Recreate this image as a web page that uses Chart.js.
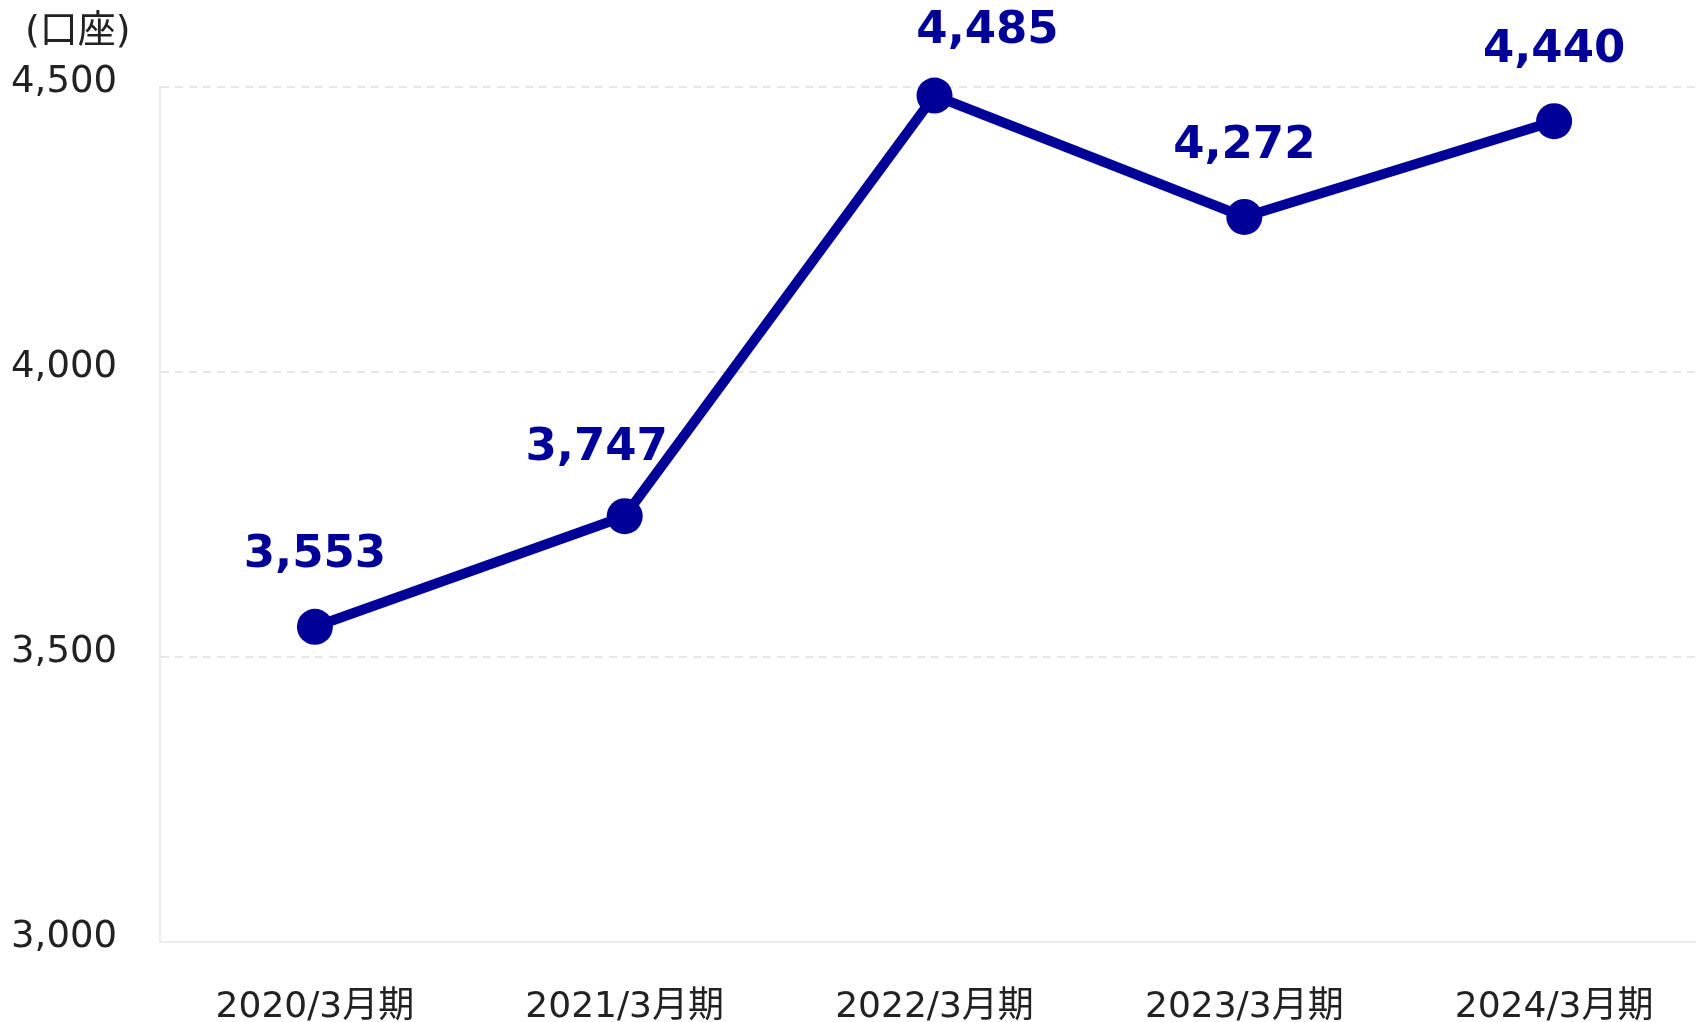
<!DOCTYPE html>
<html>
<head>
<meta charset="utf-8">
<script src="https://cdn.jsdelivr.net/npm/chart.js@4"></script>
<style>
html,body{margin:0;padding:0;background:#fff;overflow:hidden;}
#wrap{width:1696px;height:1022px;overflow:hidden;}
</style>
</head>
<body>
<div id="wrap"><canvas id="c" width="1727" height="1022"></canvas></div>
<script>
const categories = ['2020/3月期','2021/3月期','2022/3月期','2023/3月期','2024/3月期'];
const accounts = [3553, 3747, 4485, 4272, 4440];
const yTicks = [3000, 3500, 4000, 4500];
const unitLabel = '(口座)';
// label offsets (dx, dy) relative to each point, in px
const labelOffsets = [[0,-71],[-28,-68],[53,-64],[0,-71],[0,-71]];

const BLUE = '#000099';
const FONT = "'DejaVu Sans', Verdana, 'Noto Sans CJK JP', sans-serif";

const labelPlugin = {
  id: 'valueLabels',
  afterDatasetsDraw(chart) {
    const ctx = chart.ctx;
    const meta = chart.getDatasetMeta(0);
    ctx.save();
    ctx.font = "bold 45px " + FONT;
    ctx.fillStyle = BLUE;
    ctx.textAlign = 'center';
    ctx.textBaseline = 'middle';
    meta.data.forEach((pt, i) => {
      const o = labelOffsets[i];
      ctx.fillText(accounts[i].toLocaleString('en-US'), pt.x + o[0], pt.y + o[1]);
    });
    ctx.restore();
  },
  afterDraw(chart) {
    const ctx = chart.ctx;
    ctx.save();
    ctx.font = "38px " + FONT;
    ctx.fillStyle = '#222';
    ctx.textAlign = 'left';
    ctx.textBaseline = 'middle';
    ctx.fillText(unitLabel, 25, 32);
    ctx.restore();
  }
};

new Chart(document.getElementById('c'), {
  type: 'line',
  data: {
    labels: categories,
    datasets: [{
      data: accounts,
      borderColor: BLUE,
      backgroundColor: BLUE,
      borderWidth: 10,
      pointRadius: 18,
      pointHoverRadius: 18,
      pointBackgroundColor: BLUE,
      pointBorderWidth: 0,
      tension: 0,
      clip: false
    }]
  },
  options: {
    responsive: false,
    animation: false,
    devicePixelRatio: 1,
    layout: { padding: { top: 87, right: 0, left: 0, bottom: 0 } },
    plugins: { legend: { display: false }, tooltip: { enabled: false } },
    scales: {
      x: {
        offset: true,
        grid: { display: false, drawTicks: false },
        border: { display: true, color: '#ececec', width: 2 },
        ticks: { color: '#222', font: { size: 36, family: FONT }, padding: 44, maxRotation: 0 },
        afterFit(scale) { scale.height = 80; }
      },
      y: {
        min: yTicks[0],
        max: yTicks[yTicks.length - 1],
        afterBuildTicks(scale) { scale.ticks = yTicks.map(v => ({ value: v })); },
        grid: { color: '#e6e6e6', lineWidth: 2, drawTicks: false },
        border: { display: true, color: '#ececec', width: 2, dash: [8, 6] },
        ticks: {
          color: '#222',
          font: { size: 37, family: FONT },
          padding: 43,
          labelOffset: -5,
          callback: v => Number(v).toLocaleString('en-US')
        },
        afterFit(scale) { scale.width = 160; }
      }
    }
  },
  plugins: [labelPlugin]
});
</script>
</body>
</html>
